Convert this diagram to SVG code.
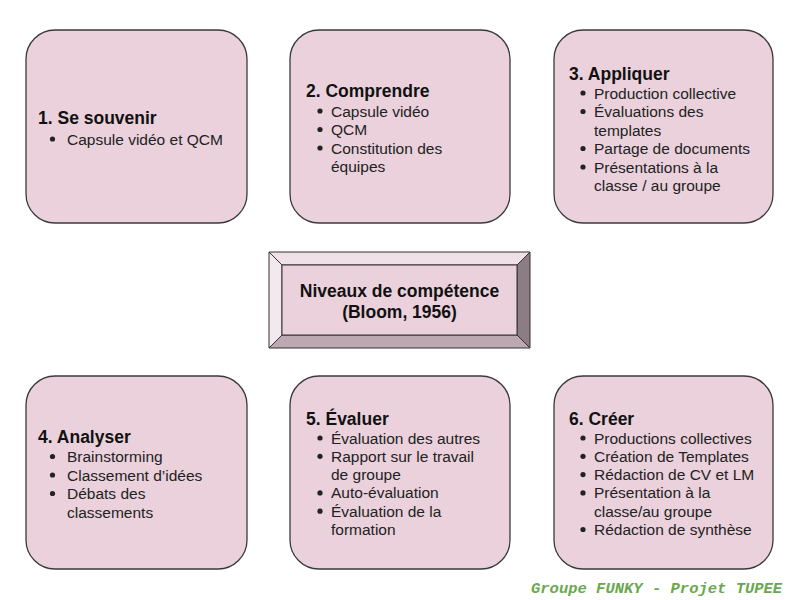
<svg xmlns="http://www.w3.org/2000/svg" width="800" height="600" viewBox="0 0 800 600">
<style>
.box{fill:#ead1dc;stroke:#3a3a3a;stroke-width:1.3}
.t{font-family:"Liberation Sans",Arial,sans-serif;font-size:17.5px;font-weight:bold;fill:#111}
.i{font-family:"Liberation Sans",Arial,sans-serif;font-size:15.5px;fill:#222}
.d{fill:#222}
.bev{stroke:#333;stroke-width:1;stroke-linejoin:round}
.foot{font-family:"Liberation Mono","DejaVu Sans Mono",monospace;font-size:15.5px;font-weight:bold;font-style:italic;fill:#6aa84f}
</style>
<rect width="800" height="600" fill="#ffffff"/>
<g id="connectors"></g>

<g id="node1">
<rect class="box" x="26" y="30" width="221" height="193" rx="29"/>
<text class="t" x="38" y="123.5">1. Se souvenir</text>
<circle class="d" cx="52.5" cy="139" r="2.6"/><text class="i" x="67" y="144.5">Capsule vidéo et QCM</text>
</g>

<g id="node2">
<rect class="box" x="290" y="30" width="220" height="193" rx="29"/>
<text class="t" x="306" y="96.5">2. Comprendre</text>
<circle class="d" cx="320" cy="111" r="2.6"/><text class="i" x="331" y="116.5">Capsule vidéo</text>
<circle class="d" cx="320" cy="129.5" r="2.6"/><text class="i" x="331" y="135">QCM</text>
<circle class="d" cx="320" cy="148" r="2.6"/><text class="i" x="331" y="153.5">Constitution des</text>
<text class="i" x="331" y="172">équipes</text>
</g>

<g id="node3">
<rect class="box" x="554" y="30" width="219" height="193" rx="29"/>
<text class="t" x="569" y="79.5">3. Appliquer</text>
<circle class="d" cx="583" cy="93" r="2.6"/><text class="i" x="594" y="98.5">Production collective</text>
<circle class="d" cx="583" cy="111.5" r="2.6"/><text class="i" x="594" y="117">Évaluations des</text>
<text class="i" x="594" y="135.5">templates</text>
<circle class="d" cx="583" cy="148.5" r="2.6"/><text class="i" x="594" y="154">Partage de documents</text>
<circle class="d" cx="583" cy="167" r="2.6"/><text class="i" x="594" y="172.5">Présentations à la</text>
<text class="i" x="594" y="191">classe / au groupe</text>
</g>

<g id="center">
<polygon class="bev" points="269,252 530,252 517,265 282,265" fill="#f0e1e8"/>
<polygon class="bev" points="269,252 282,265 282,335 269,348" fill="#f3e8ed"/>
<polygon class="bev" points="530,252 530,348 517,335 517,265" fill="#8c7c84"/>
<polygon class="bev" points="269,348 282,335 517,335 530,348" fill="#bba8b1"/>
<rect class="bev" x="282" y="265" width="235" height="70" fill="#ead1dc"/>
<text class="t" x="399.5" y="297" text-anchor="middle">Niveaux de compétence</text>
<text class="t" x="399.5" y="318" text-anchor="middle">(Bloom, 1956)</text>
</g>

<g id="node4">
<rect class="box" x="26" y="376" width="221" height="193" rx="29"/>
<text class="t" x="38" y="443">4. Analyser</text>
<circle class="d" cx="52.5" cy="456.5" r="2.6"/><text class="i" x="67" y="462">Brainstorming</text>
<circle class="d" cx="52.5" cy="475" r="2.6"/><text class="i" x="67" y="480.5">Classement d’idées</text>
<circle class="d" cx="52.5" cy="493.5" r="2.6"/><text class="i" x="67" y="499">Débats des</text>
<text class="i" x="67" y="517.5">classements</text>
</g>

<g id="node5">
<rect class="box" x="290" y="376" width="220" height="193" rx="29"/>
<text class="t" x="306" y="424.5">5. Évaluer</text>
<circle class="d" cx="320" cy="438" r="2.6"/><text class="i" x="331" y="443.5">Évaluation des autres</text>
<circle class="d" cx="320" cy="456.3" r="2.6"/><text class="i" x="331" y="461.8">Rapport sur le travail</text>
<text class="i" x="331" y="480.1">de groupe</text>
<circle class="d" cx="320" cy="492.9" r="2.6"/><text class="i" x="331" y="498.4">Auto-évaluation</text>
<circle class="d" cx="320" cy="511.2" r="2.6"/><text class="i" x="331" y="516.7">Évaluation de la</text>
<text class="i" x="331" y="535">formation</text>
</g>

<g id="node6">
<rect class="box" x="554" y="376" width="219" height="193" rx="29"/>
<text class="t" x="569" y="424.5">6. Créer</text>
<circle class="d" cx="583" cy="438" r="2.6"/><text class="i" x="594" y="443.5">Productions collectives</text>
<circle class="d" cx="583" cy="456.3" r="2.6"/><text class="i" x="594" y="461.8">Création de Templates</text>
<circle class="d" cx="583" cy="474.6" r="2.6"/><text class="i" x="594" y="480.1">Rédaction de CV et LM</text>
<circle class="d" cx="583" cy="492.9" r="2.6"/><text class="i" x="594" y="498.4">Présentation à la</text>
<text class="i" x="594" y="516.7">classe/au groupe</text>
<circle class="d" cx="583" cy="529.5" r="2.6"/><text class="i" x="594" y="535">Rédaction de synthèse</text>
</g>

<text class="foot" x="531" y="593">Groupe FUNKY - Projet TUPEE</text>
</svg>
